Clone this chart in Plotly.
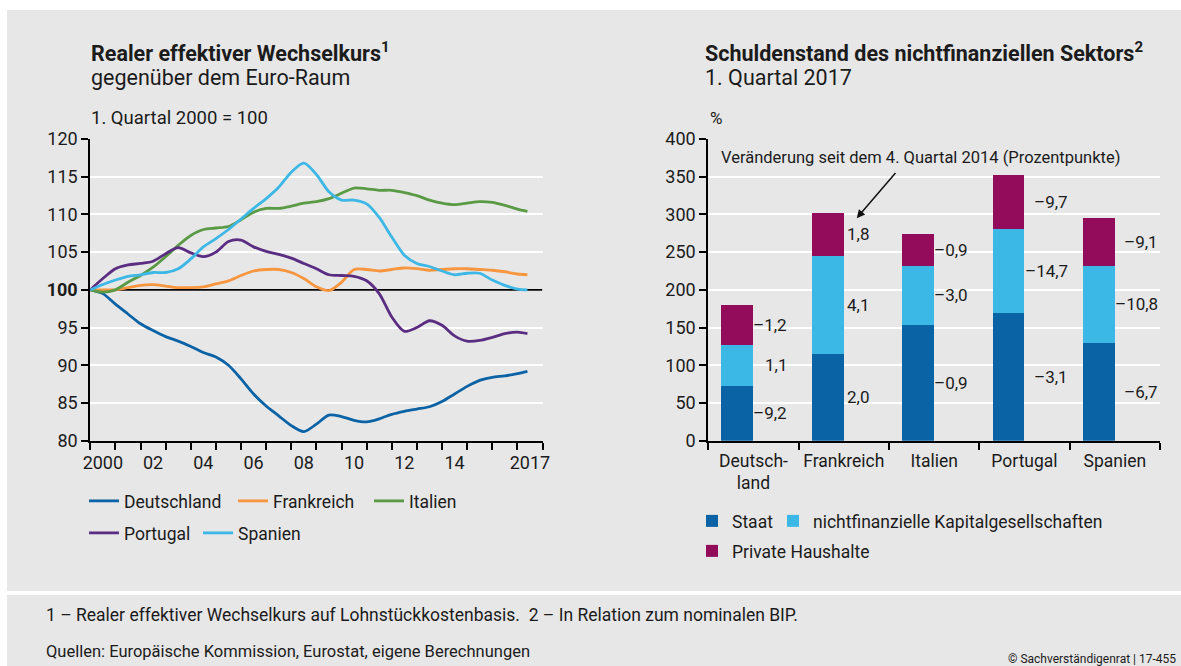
import plotly.graph_objects as go

W, H = 1181, 666
# fixed margins, larger than anything plotly may push on its own
ML, MR, MT, MB = 20, 20, 20, 20

################################################################################
# left panel: real effective exchange rate vs euro area, Q1 2000 = 100
# (values read off the chart at half-year steps)
################################################################################

jahre = [2000.0, 2000.5, 2001.0, 2001.5, 2002.0, 2002.5, 2003.0, 2003.5,
         2004.0, 2004.5, 2005.0, 2005.5, 2006.0, 2006.5, 2007.0, 2007.5,
         2008.0, 2008.5, 2009.0, 2009.5, 2010.0, 2010.5, 2011.0, 2011.5,
         2012.0, 2012.5, 2013.0, 2013.5, 2014.0, 2014.5, 2015.0, 2015.5,
         2016.0, 2016.5, 2017.0, 2017.4]

deutschland = [100.0, 99.5, 98.1, 96.8, 95.5, 94.6, 93.8, 93.2,
               92.5, 91.7, 91.1, 90.0, 88.2, 86.2, 84.6, 83.3,
               82.0, 81.2, 82.2, 83.4, 83.2, 82.7, 82.5, 82.9,
               83.5, 83.9, 84.2, 84.5, 85.2, 86.2, 87.2, 88.0,
               88.4, 88.6, 88.9, 89.2]

frankreich = [100.0, 100.0, 100.0, 100.3, 100.6, 100.7, 100.5, 100.3,
              100.3, 100.4, 100.8, 101.2, 101.9, 102.5, 102.7, 102.7,
              102.3, 101.5, 100.4, 99.9, 101.0, 102.7, 102.7, 102.5,
              102.7, 102.9, 102.8, 102.6, 102.7, 102.8, 102.8, 102.7,
              102.6, 102.4, 102.1, 102.0]

italien = [100.0, 99.7, 100.0, 101.0, 101.9, 103.0, 104.4, 105.9,
           107.2, 108.0, 108.2, 108.4, 109.3, 110.3, 110.8, 110.8,
           111.1, 111.5, 111.7, 112.1, 112.8, 113.5, 113.4, 113.2,
           113.2, 112.9, 112.5, 111.9, 111.5, 111.3, 111.5, 111.7,
           111.6, 111.2, 110.7, 110.4]

portugal = [100.0, 101.5, 102.8, 103.3, 103.5, 103.8, 104.8, 105.6,
            104.9, 104.4, 105.0, 106.4, 106.6, 105.7, 105.1, 104.7,
            104.2, 103.5, 102.8, 102.0, 101.9, 101.8, 101.2, 99.5,
            96.4, 94.5, 95.0, 95.9, 95.3, 93.9, 93.2, 93.3,
            93.7, 94.2, 94.4, 94.2]

spanien = [100.0, 100.7, 101.3, 101.8, 102.0, 102.3, 102.3, 102.8,
           104.1, 105.7, 106.8, 108.0, 109.4, 110.8, 112.1, 113.6,
           115.6, 116.8, 115.3, 113.0, 111.9, 111.9, 111.4, 109.6,
           107.0, 104.6, 103.5, 103.1, 102.5, 102.0, 102.2, 102.2,
           101.3, 100.6, 100.1, 100.0]

jahr_labels = ["2000", "02", "04", "06", "08", "10", "12", "14", "2017"]
jahr_label_pos = [2000.5, 2002.5, 2004.5, 2006.5, 2008.5, 2010.5, 2012.5, 2014.5, 2017.5]

################################################################################
# right panel: debt of the non-financial sector, Q1 2017, % of GDP
################################################################################

laender = ["Deutsch-<br>land", "Frankreich", "Italien", "Portugal", "Spanien"]
staat = [72.6, 115.0, 153.5, 169.5, 129.6]
kapitalges = [54.4, 130.1, 78.3, 111.5, 102.2]
haushalte = [53.1, 57.1, 42.5, 71.7, 63.7]
# change since Q4 2014, percentage points
d_staat = [-9.2, 2.0, -0.9, -3.1, -6.7]
d_kapitalges = [1.1, 4.1, -3.0, -14.7, -10.8]
d_haushalte = [-1.2, 1.8, -0.9, -9.7, -9.1]

################################################################################

FONT = "Roboto"
TXT = "#1b1b1b"
PANEL = "#e7e7e7"

farben = {
  "Deutschland": "#0b63a6", "Frankreich": "#f7963f", "Italien": "#5b9a45",
  "Portugal": "#5b2d82", "Spanien": "#3db8e6",
  "Staat": "#0a63a5", "nichtfinanzielle Kapitalgesellschaften": "#3bb8e5",
  "Private Haushalte": "#930c5b",
}
# legend entry widths (px) so the legend rows space out like the original
eintragbreite = {"Deutschland": 104, "Frankreich": 91, "Portugal": 69, "Staat": 36}

# pixel position (from top-left of the picture) -> paper coordinates
def px(x):
  return (x - ML) / (W - ML - MR)

def py(y):
  return 1 - (y - MT) / (H - MT - MB)

def de(v):
  s = ("%.1f" % abs(v)).replace(".", ",")
  return ("–" if v < 0 else "") + s

def textw(s):
  # rough width of a label at 17px
  return sum(9.6 if c.isdigit() else 3.6 if c == "," else 9.0 for c in s)

fig = go.Figure()

linien = [("Deutschland", deutschland, "legend"),
          ("Frankreich", frankreich, "legend"),
          ("Italien", italien, "legend"),
          ("Portugal", portugal, "legend2"),
          ("Spanien", spanien, "legend2")]
for name, vals, leg in linien:
  fig.add_trace(go.Scatter(x=jahre, y=vals, mode="lines", name=name,
                           line=dict(color=farben[name], width=2.8, shape="spline", smoothing=0.8),
                           xaxis="x", yaxis="y", legend=leg,
                           legendwidth=eintragbreite.get(name), hoverinfo="skip"))

xpos = list(range(len(laender)))
BW = 0.354
balken = [("Staat", staat, "legend3"),
          ("nichtfinanzielle Kapitalgesellschaften", kapitalges, "legend3"),
          ("Private Haushalte", haushalte, "legend4")]
for name, vals, leg in balken:
  fig.add_trace(go.Bar(x=xpos, y=vals, name=name,
                       marker=dict(color=farben[name], line=dict(width=0)),
                       width=BW, offset=-BW, xaxis="x2", yaxis="y2", legend=leg,
                       legendwidth=eintragbreite.get(name), hoverinfo="skip"))

annos = []

# change labels right of each stacked bar, right aligned per column
for i in xpos:
  labs = [de(d_staat[i]), de(d_kapitalges[i]), de(d_haushalte[i])]
  colw = max(textw(s) for s in labs)
  centers = [staat[i] / 2,
             staat[i] + kapitalges[i] / 2,
             staat[i] + kapitalges[i] + haushalte[i] / 2]
  for s, yc in zip(labs, centers):
    annos.append(dict(x=i, y=yc, xref="x2", yref="y2", text=s, showarrow=False,
                      xanchor="right", yanchor="middle", xshift=4 + colw,
                      font=dict(size=17, color=TXT)))

# explanatory note with arrow
annos.append(dict(x=px(719), y=py(158), xref="paper", yref="paper",
                  text="Veränderung seit dem 4. Quartal 2014 (Prozentpunkte)",
                  showarrow=False, xanchor="left", yanchor="middle",
                  font=dict(size=16.5, color=TXT)))
annos.append(dict(x=1.143, y=295, xref="x2", yref="y2", ax=1.586, ay=357,
                  axref="x2", ayref="y2", text="", showarrow=True, arrowhead=2,
                  arrowsize=1.1, arrowwidth=1.5, arrowcolor="#111", standoff=0,
                  startstandoff=0))

# titles and footnotes
texte = [
  (89, 52, "<b>Realer effektiver Wechselkurs<sup>1</sup></b>", 21.5),
  (89, 78, "gegenüber dem Euro-Raum", 21.5),
  (89, 118, "1. Quartal 2000 = 100", 18.5),
  (703, 52, "<b>Schuldenstand des nichtfinanziellen Sektors<sup>2</sup></b>", 21.5),
  (703, 78, "1. Quartal 2017", 21.5),
  (708, 118, "%", 17),
  (44, 615, "1 – Realer effektiver Wechselkurs auf Lohnstückkostenbasis.  2 – In Relation zum nominalen BIP.", 17.5),
  (44, 651, "Quellen: Europäische Kommission, Eurostat, eigene Berechnungen", 16.5),
]
for x, y, t, s in texte:
  annos.append(dict(x=px(x), y=py(y), xref="paper", yref="paper", text=t, showarrow=False,
                    xanchor="left", yanchor="middle", font=dict(size=s, color=TXT)))
annos.append(dict(x=px(1178), y=py(659), xref="paper", yref="paper", showarrow=False,
                  xanchor="right", yanchor="middle", text="© Sachverständigenrat | 17-455",
                  font=dict(size=12, color=TXT)))

shapes = [
  dict(type="rect", xref="paper", yref="paper", x0=px(7), x1=px(W), y0=py(591), y1=py(10),
       fillcolor=PANEL, line=dict(width=0), layer="below"),
  dict(type="rect", xref="paper", yref="paper", x0=px(7), x1=px(W), y0=py(H), y1=py(595),
       fillcolor=PANEL, line=dict(width=0), layer="below"),
  dict(type="line", xref="x", yref="y", x0=2000, x1=2018, y0=100, y1=100,
       line=dict(color="black", width=1.6), layer="between"),
]

tickfont = dict(size=18, color=TXT)
catfont = dict(size=17.5, color=TXT)
grid = dict(showgrid=True, gridcolor="white", gridwidth=2)

def legende(x, y):
  return dict(orientation="h", x=px(x), y=py(y), xanchor="left", yanchor="middle",
              bgcolor="rgba(0,0,0,0)", font=dict(size=17.5, color=TXT), itemwidth=30,
              traceorder="normal")

fig.update_layout(
  width=W, height=H,
  margin=dict(l=ML, r=MR, t=MT, b=MB),
  paper_bgcolor="white", plot_bgcolor="rgba(0,0,0,0)",
  font=dict(family=FONT, color=TXT),
  barmode="stack",
  showlegend=True,
  shapes=shapes,
  annotations=annos,
  xaxis=dict(domain=[px(90.3), px(542.5)], range=[2000, 2018],
             tickmode="array", tickvals=jahr_label_pos, ticktext=jahr_labels,
             ticks="outside", ticklen=5, tickcolor="rgba(0,0,0,0)",
             minor=dict(tickmode="array", tickvals=list(range(2000, 2019)), ticks="outside",
                        ticklen=7, tickwidth=1.5, tickcolor="black", showgrid=False),
             showline=True, linecolor="black", linewidth=2, showgrid=False,
             zeroline=False, tickfont=tickfont, fixedrange=True, automargin=False),
  yaxis=dict(domain=[py(440.7), py(139)], range=[80, 120],
             tickmode="array", tickvals=[80, 85, 90, 95, 100, 105, 110, 115, 120],
             ticktext=["80", "85", "90", "95", "<b>100</b>", "105", "110", "115", "120"],
             ticks="outside", ticklen=7, tickwidth=1.5, tickcolor="black",
             showline=True, linecolor="black", linewidth=2, zeroline=False,
             tickfont=tickfont, fixedrange=True, automargin=False, **grid),
  xaxis2=dict(domain=[px(708.3), px(1160)], range=[-0.5, 4.5], anchor="y2",
              tickmode="array", tickvals=xpos, ticktext=laender,
              ticks="outside", ticklen=3, tickcolor="rgba(0,0,0,0)",
              minor=dict(tickmode="array", tickvals=[-0.5, 0.5, 1.5, 2.5, 3.5, 4.5],
                         ticks="outside", ticklen=7, tickwidth=1.5, tickcolor="black",
                         showgrid=False),
              showline=True, linecolor="black", linewidth=2, showgrid=False,
              zeroline=False, tickfont=catfont, fixedrange=True, automargin=False),
  yaxis2=dict(domain=[py(440.7), py(139)], range=[0, 400], anchor="x2",
              tickmode="array", tickvals=[0, 50, 100, 150, 200, 250, 300, 350, 400],
              ticks="outside", ticklen=7, tickwidth=1.5, tickcolor="black",
              showline=True, linecolor="black", linewidth=2, zeroline=False,
              tickfont=tickfont, fixedrange=True, automargin=False, **grid),
  legend=legende(84, 501),
  legend2=legende(84, 533),
  legend3=legende(692, 521),
  legend4=legende(692, 551),
)

fig.write_html("out.html", config={"displayModeBar": False},
               post_script="document.body.style.margin='0';"
                           "document.documentElement.style.overflow='hidden';")
